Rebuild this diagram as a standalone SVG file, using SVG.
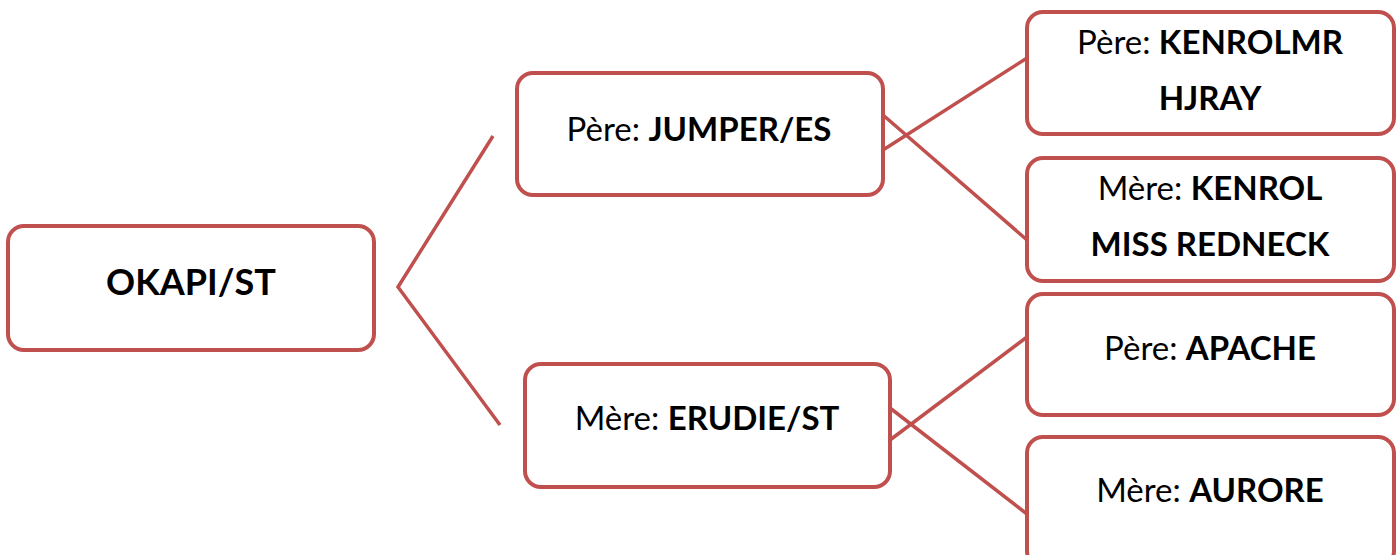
<svg xmlns="http://www.w3.org/2000/svg" width="1400" height="555" viewBox="0 0 1400 555">
<style>
.box{fill:#fff;stroke:#C0504D;stroke-width:4}
.con{stroke:#C0504D;stroke-width:3.5;fill:none}
text{font-family:Lato,"Liberation Sans",sans-serif;font-size:33px;fill:#000;text-anchor:middle}
.b{font-weight:bold}
</style>
<rect width="1400" height="555" fill="#fff"/>
<g id="connectors">
<polyline class="con" points="493,136 398,287 500,425"/>
<line class="con" x1="883" y1="150" x2="1027" y2="58"/>
<line class="con" x1="883" y1="115" x2="1027" y2="240"/>
<line class="con" x1="890" y1="440" x2="1027" y2="337"/>
<line class="con" x1="890" y1="408" x2="1027" y2="514"/>
</g>
<g id="okapi">
<rect class="box" x="8" y="226" width="366" height="124" rx="16"/>
<text x="191" y="295" class="b" style="font-size:36px">OKAPI/ST</text>
</g>
<g id="jumper">
<rect class="box" x="517" y="73" width="366" height="122" rx="16"/>
<text x="699" y="141">Père: <tspan class="b">JUMPER/ES</tspan></text>
</g>
<g id="erudie">
<rect class="box" x="525" y="364" width="365" height="123" rx="16"/>
<text x="707" y="430">Mère: <tspan class="b">ERUDIE/ST</tspan></text>
</g>
<g id="kenrolmr">
<rect class="box" x="1027" y="12" width="367" height="122" rx="16"/>
<text x="1210" y="54">Père: <tspan class="b">KENROLMR</tspan></text>
<text x="1210" y="110" class="b">HJRAY</text>
</g>
<g id="kenrol">
<rect class="box" x="1027" y="158" width="367" height="123" rx="16"/>
<text x="1210" y="200">Mère: <tspan class="b">KENROL</tspan></text>
<text x="1210" y="256" class="b">MISS REDNECK</text>
</g>
<g id="apache">
<rect class="box" x="1027" y="294" width="367" height="121" rx="16"/>
<text x="1210" y="360">Père: <tspan class="b">APACHE</tspan></text>
</g>
<g id="aurore">
<rect class="box" x="1027" y="437" width="367" height="130" rx="16"/>
<text x="1210" y="502">Mère: <tspan class="b">AURORE</tspan></text>
</g>
</svg>
